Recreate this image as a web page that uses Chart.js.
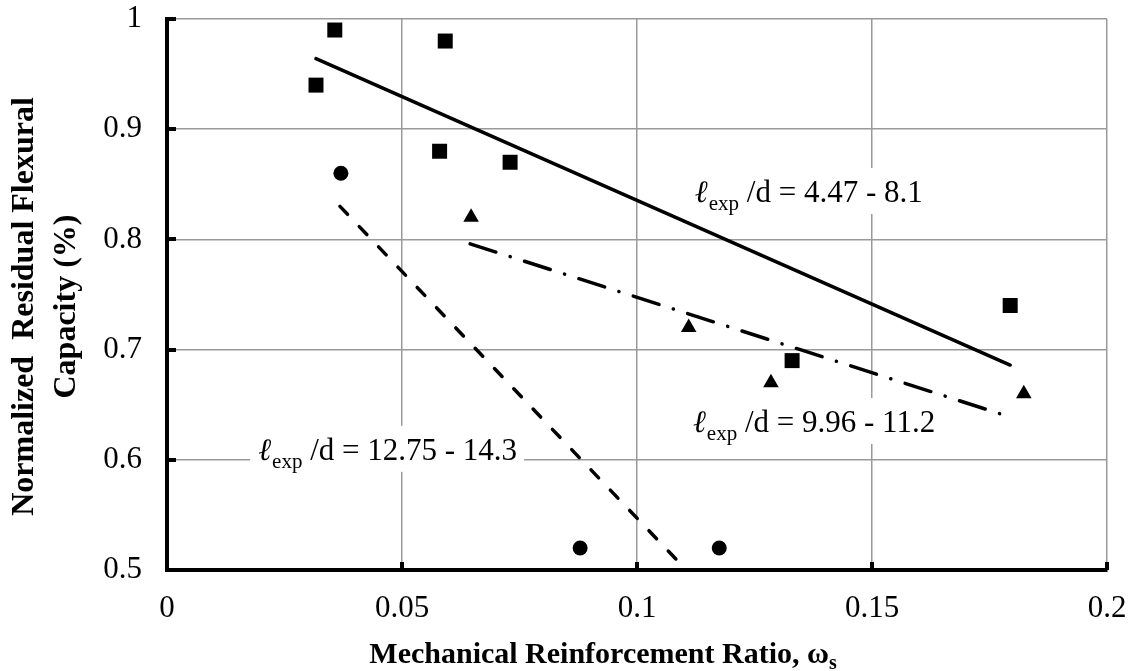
<!DOCTYPE html>
<html>
<head>
<meta charset="utf-8">
<script src="https://cdn.jsdelivr.net/npm/chart.js@4.4.1/dist/chart.umd.min.js"></script>
<style>
  html, body { margin: 0; padding: 0; background: #fff; }
  #wrap { width: 1139px; height: 671px; position: relative; }
</style>
</head>
<body>
<div id="wrap"><canvas id="chart"></canvas></div>
<script>
// ===================== Data =====================
const squareX = [0.0317, 0.0357, 0.0592, 0.058, 0.073, 0.133, 0.1794];
const squareY = [0.94, 0.99, 0.98, 0.88, 0.87, 0.69, 0.74];

const triangleX = [0.0647, 0.111, 0.1285, 0.1823];
const triangleY = [0.82, 0.72, 0.67, 0.66];

const circleX = [0.037, 0.0879, 0.1175];
const circleY = [0.86, 0.52, 0.52];

// trend lines (end points)
const solidX = [0.0317, 0.1794];
const solidY = [0.964, 0.686];
const dashDotX = [0.0645, 0.180];
const dashDotY = [0.796, 0.638];
const dashedX = [0.0368, 0.1085];
const dashedY = [0.83, 0.509];

const xTickLabels = ["0", "0.05", "0.1", "0.15", "0.2"];
const yTickLabels = ["0.5", "0.6", "0.7", "0.8", "0.9", "1"];

const eqRanges = ["4.47 - 8.1", "9.96 - 11.2", "12.75 - 14.3"];

const xTitle = "Mechanical Reinforcement Ratio, ω";
const xTitleSub = "s";
const yTitle = ["Normalized  Residual Flexural", "Capacity (%)"];

// ===================== Helpers =====================
const FONT = "'Liberation Serif', 'Times New Roman', serif";
const toPts = (xs, ys) => xs.map((x, i) => ({ x: x, y: ys[i] }));

const xVals = xTickLabels.map(Number);
const yVals = yTickLabels.map(Number);

function noPad(s) {
  s.paddingTop = 0;
  s.paddingBottom = 0;
  s.paddingLeft = 0;
  s.paddingRight = 0;
}

// ===================== Decoration plugin =====================
const decor = {
  id: "decor",
  beforeDatasetsDraw(chart, args, opts) {
    const ctx = chart.ctx;
    const xs = chart.scales.x, ys = chart.scales.y;
    ctx.save();
    opts.labels.forEach((lb) => {
      const x0 = xs.getPixelForValue(lb.x);
      const base = ys.getPixelForValue(lb.y);
      ctx.font = "italic 31px " + FONT;
      const wL = ctx.measureText("\u2113").width;
      ctx.font = "31px " + FONT;
      const rest = " /d = " + lb.text;
      const wR = ctx.measureText(rest).width;
      ctx.font = "21px " + FONT;
      const wS = ctx.measureText("exp").width;
      const total = wL + wS + wR;
      ctx.fillStyle = "#fff";
      ctx.fillRect(x0 - 8, base - 34, total + 16, 46);
      ctx.fillStyle = "#000";
      ctx.textBaseline = "alphabetic";
      ctx.textAlign = "left";
      ctx.font = "italic 31px " + FONT;
      ctx.fillText("\u2113", x0, base);
      ctx.font = "21px " + FONT;
      ctx.fillText("exp", x0 + wL + 1, base + 8);
      ctx.font = "31px " + FONT;
      ctx.fillText(rest, x0 + wL + wS + 1, base);
    });
    ctx.restore();
  },
  afterDraw(chart) {
    const ctx = chart.ctx;
    const ca = chart.chartArea;
    const xs = chart.scales.x, ys = chart.scales.y;
    ctx.save();
    // inward tick marks
    ctx.strokeStyle = "#000";
    ctx.lineWidth = 4;
    ctx.beginPath();
    xVals.forEach((v) => {
      const px = Math.round(xs.getPixelForValue(v));
      ctx.moveTo(px, ca.bottom);
      ctx.lineTo(px, ca.bottom - 8);
    });
    yVals.forEach((v) => {
      const py = Math.round(ys.getPixelForValue(v));
      ctx.moveTo(ca.left, py);
      ctx.lineTo(ca.left + 9, py);
    });
    ctx.stroke();

    // x axis title with subscript
    ctx.fillStyle = "#000";
    ctx.textBaseline = "alphabetic";
    ctx.textAlign = "left";
    ctx.font = "bold 30px " + FONT;
    const w = ctx.measureText(xTitle).width;
    ctx.font = "bold 20px " + FONT;
    const ws = ctx.measureText(xTitleSub).width;
    const cx = (ca.left + ca.right) / 2 - 34;
    const sx = cx - (w + ws) / 2;
    ctx.font = "bold 30px " + FONT;
    ctx.fillText(xTitle, sx, 663);
    ctx.font = "bold 20px " + FONT;
    ctx.fillText(xTitleSub, sx + w, 669);

    // y axis title (rotated, two lines)
    const cy = (ca.top + ca.bottom) / 2 + 12;
    ctx.font = "bold 32px " + FONT;
    ctx.textAlign = "center";
    ctx.save();
    ctx.translate(33, cy);
    ctx.rotate(-Math.PI / 2);
    ctx.fillText(yTitle[0], 0, 0);
    ctx.fillText(yTitle[1], 0, 42);
    ctx.restore();
    ctx.restore();
  }
};

// ===================== Chart =====================
const ctx = document.getElementById("chart").getContext("2d");

new Chart(ctx, {
  type: "scatter",
  data: {
    datasets: [
      {
        label: "Solid fit",
        data: toPts(solidX, solidY),
        showLine: true,
        borderColor: "#000",
        borderWidth: 3.5,
        pointRadius: 0,
        borderCapStyle: "round"
      },
      {
        label: "Dash-dot fit",
        data: toPts(dashDotX, dashDotY),
        showLine: true,
        borderColor: "#000",
        borderWidth: 3.5,
        pointRadius: 0,
        borderCapStyle: "round",
        borderDash: [27, 15, 0.1, 15]
      },
      {
        label: "Dashed fit",
        data: toPts(dashedX, dashedY),
        showLine: true,
        borderColor: "#000",
        borderWidth: 3.5,
        pointRadius: 0,
        borderCapStyle: "round",
        borderDash: [11, 17]
      },
      {
        label: "Squares",
        data: toPts(squareX, squareY),
        pointStyle: "rect",
        pointRadius: 10.6,
        backgroundColor: "#000",
        borderColor: "#000",
        borderWidth: 0
      },
      {
        label: "Triangles",
        data: toPts(triangleX, triangleY),
        pointStyle: "triangle",
        pointRadius: 9,
        backgroundColor: "#000",
        borderColor: "#000",
        borderWidth: 0
      },
      {
        label: "Circles",
        data: toPts(circleX, circleY),
        pointStyle: "circle",
        pointRadius: 7.5,
        backgroundColor: "#000",
        borderColor: "#000",
        borderWidth: 0
      }
    ]
  },
  options: {
    responsive: true,
    maintainAspectRatio: false,
    animation: false,
    layout: { padding: { top: 19, right: 32, left: 0, bottom: 0 } },
    plugins: {
      legend: { display: false },
      tooltip: { enabled: false },
      decor: {
        labels: [
          { x: 0.1123, y: 0.834, text: eqRanges[0] },
          { x: 0.1119, y: 0.6252, text: eqRanges[1] },
          { x: 0.0194, y: 0.600, text: eqRanges[2] }
        ]
      }
    },
    scales: {
      x: {
        type: "linear",
        min: xVals[0],
        max: xVals[xVals.length - 1],
        afterFit: (s) => { s.height = 101; noPad(s); },
        afterBuildTicks: (s) => { s.ticks = xVals.map((v) => ({ value: v })); },
        ticks: {
          padding: 20,
          color: "#000",
          font: { family: FONT, size: 31 },
          callback: (v, i) => xTickLabels[i]
        },
        grid: { color: "#9a9a9a", lineWidth: 1.5, drawTicks: false },
        border: { color: "#000", width: 4 },
        title: { display: false }
      },
      y: {
        type: "linear",
        min: yVals[0],
        max: yVals[yVals.length - 1],
        afterFit: (s) => { s.width = 167; noPad(s); },
        afterBuildTicks: (s) => { s.ticks = yVals.map((v) => ({ value: v })); },
        ticks: {
          padding: 25,
          color: "#000",
          font: { family: FONT, size: 31 },
          callback: (v, i) => yTickLabels[i]
        },
        grid: { color: "#9a9a9a", lineWidth: 1.5, drawTicks: false },
        border: { color: "#000", width: 4 },
        title: { display: false }
      }
    }
  },
  plugins: [decor]
});
</script>
</body>
</html>
